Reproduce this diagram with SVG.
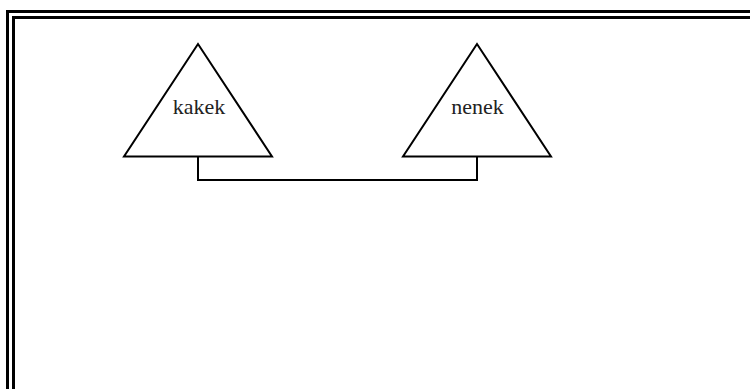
<svg xmlns="http://www.w3.org/2000/svg" width="750" height="389" viewBox="0 0 750 389">
<style>
.frame{fill:none;stroke:#000;stroke-width:3}
.tri{fill:#fff;stroke:#000;stroke-width:2}
.lbl{font-family:"Liberation Serif",serif;font-size:22px;fill:#222;text-anchor:middle}
.conn{fill:none;stroke:#000;stroke-width:2}
</style>
<rect width="750" height="389" fill="#fff"/>
<rect class="frame" x="7.5" y="11.5" width="760" height="400"/>
<rect class="frame" x="13.5" y="17.5" width="750" height="390"/>
<g id="connectors">
<path class="conn" d="M198 156.5 V180 H477 V156.5"/>
</g>
<g id="kakek">
<polygon class="tri" points="198,44 124,156.5 272,156.5"/>
<text class="lbl" x="199" y="114">kakek</text>
</g>
<g id="nenek">
<polygon class="tri" points="477,44 403,156.5 551,156.5"/>
<text class="lbl" x="477.5" y="114">nenek</text>
</g>
</svg>
